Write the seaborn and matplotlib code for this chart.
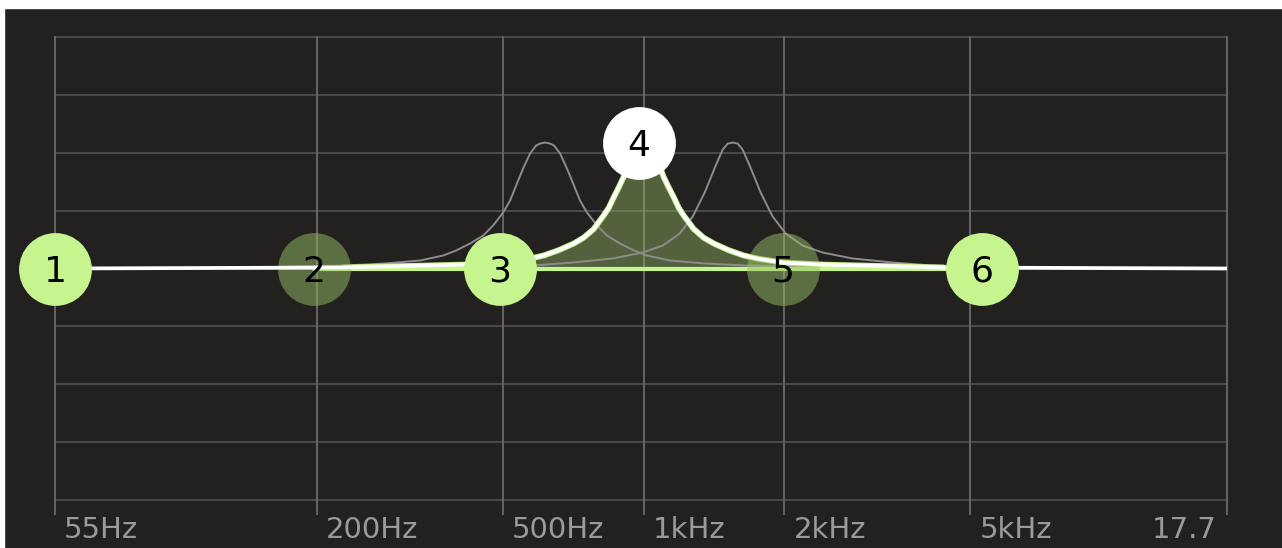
import matplotlib.pyplot as plt
import seaborn as sns
from matplotlib.transforms import ScaledTranslation
from matplotlib.patches import Rectangle

# colours
BG = '#232020'
GRID_H = '#4a4a4a'
GRID_V = '#6a6a6a'
LIME = '#c6f48e'
OLIVE = (0.59, 0.75, 0.40)
GHOST = '#8c8c8c'

# axis ticks
freq_ticks = [55, 200, 500, 1000, 2000, 5000, 17700]
freq_labels = ['55Hz', '200Hz', '500Hz', '1kHz', '2kHz', '5kHz', '17.7']
db_ticks = [-24, -18, -12, -6, 0, 6, 12, 18, 24]

# band handles
node_ids = ['1', '2', '3', '4', '5', '6']
node_freq = [55, 197, 492, 978, 1982, 5300]
node_gain = [0, 0, 0, 13.05, 0, 0]
node_state = ['on', 'off', 'on', 'selected', 'off', 'on']

# selected band (4) curve
band4_freq = [228, 339, 412, 502, 568, 611, 658, 709, 744, 782, 801, 821, 842, 863, 884, 906, 929, 952,
              1000,
              1050, 1077, 1103, 1131, 1159, 1188, 1217, 1248, 1279, 1343, 1411, 1519, 1636, 1761,
              1992, 2425, 2952, 4377]
band4_gain = [0.1, 0.3, 0.4, 0.6, 1.0, 1.35, 1.9, 2.6, 3.2, 4.1, 4.8, 5.5, 6.3, 7.4, 8.4, 9.5, 10.8, 11.9,
              13.05,
              11.9, 10.8, 9.5, 8.4, 7.4, 6.3, 5.5, 4.8, 4.1, 3.2, 2.6, 1.9, 1.35, 1.0,
              0.6, 0.4, 0.3, 0.1]

# faint ghost curves either side
ghost_lo_freq = [140.5, 229.9, 279.9, 332.5, 372.4, 396.9, 425.2, 453.4, 476.2, 500.2, 517.7,
                 533.3, 551.9, 571.2, 588.3, 600.1,
                 615,
                 630.3, 642.9, 662.2, 685.3, 709.2, 730.6, 756.2, 794.3, 834.2, 889.5, 952.9,
                 1015.7, 1137.4, 1351.3, 1645, 2692]
ghost_lo_gain = [0.10, 0.31, 0.52, 0.83, 1.35, 1.87, 2.59, 3.42, 4.46, 5.80, 7.05,
                 8.60, 10.36, 11.92, 12.75, 12.95,
                 13.06,
                 12.95, 12.75, 11.92, 10.36, 8.60, 7.05, 5.80, 4.46, 3.42, 2.59, 1.87,
                 1.35, 0.83, 0.52, 0.31, 0.10]

ghost_hi_freq = [354.1, 579.5, 705.4, 858.9, 995.4, 1098.5, 1194.1, 1273.2, 1350.5, 1425.5,
                 1475.6, 1512.3,
                 1550,
                 1588.6, 1628.1, 1685.3, 1778.9, 1887.0, 2011.9, 2187.1, 2413.5, 2797.3,
                 3405.8, 4145.9, 6784.4]
ghost_hi_gain = [0.10, 0.31, 0.62, 1.04, 1.66, 2.38, 3.63, 5.39, 7.88, 10.67,
                 12.33, 12.95,
                 13.06,
                 12.95, 12.33, 10.67, 7.88, 5.39, 3.63, 2.38, 1.66, 1.04,
                 0.62, 0.31, 0.10]

sns.set_theme(style='dark', rc={'axes.facecolor': BG, 'figure.facecolor': BG})
plt.rcParams['font.family'] = ['DejaVu Sans']

fig = plt.figure(figsize=(12.82, 5.48), dpi=100)
ax = fig.add_axes([55 / 1282, 48 / 548, 1172 / 1282, 463 / 548])
ax.set_facecolor(BG)

ax.set_xscale('log')
ax.set_xlim(freq_ticks[0], freq_ticks[-1])
ax.set_ylim(db_ticks[0], db_ticks[-1])

# grid
for d in db_ticks:
    ax.axhline(d, color=GRID_H, lw=1.4, zorder=0, clip_on=False)
for f in freq_ticks:
    ax.axvline(f, color=GRID_V, lw=1.3, zorder=0.5, clip_on=False)
ax.set_xticks(freq_ticks)
ax.set_xticklabels([])
ax.set_yticks([])
ax.minorticks_off()
ax.tick_params(axis='x', direction='out', length=11, width=1.3, color=GRID_V, bottom=True)
for s in ax.spines.values():
    s.set_visible(False)

# tick labels, left aligned just right of each line (last one right aligned)
trans = ax.get_xaxis_transform()
for f, lab in zip(freq_ticks, freq_labels):
    last = f == freq_ticks[-1]
    off = ScaledTranslation(-0.10 if last else 0.09, -0.38, fig.dpi_scale_trans)
    ax.text(f, 0, lab, transform=trans + off, ha='right' if last else 'left',
            va='baseline', fontsize=21, color='#9a9a9a')

# selected band fill and ghosts
ax.fill_between(band4_freq, 0, band4_gain, color=OLIVE, alpha=0.42, lw=0, zorder=1)
sns.lineplot(x=ghost_lo_freq, y=ghost_lo_gain, color=GHOST, lw=1.4, sort=False, ax=ax, zorder=2)
sns.lineplot(x=ghost_hi_freq, y=ghost_hi_gain, color=GHOST, lw=1.4, sort=False, ax=ax, zorder=2)
sns.lineplot(x=[node_freq[1], node_freq[5]], y=[0, 0], color=LIME, lw=3, ax=ax, zorder=3)
sns.lineplot(x=band4_freq, y=band4_gain, color=LIME, lw=4.2, sort=False, ax=ax, zorder=3)

# overall response
resp_freq = [freq_ticks[0]] + band4_freq + [freq_ticks[-1]]
resp_gain = [0] + band4_gain + [0]
sns.lineplot(x=resp_freq, y=resp_gain, color='white', lw=2.7, sort=False, ax=ax, zorder=4)

# handles
style = {'on': (LIME, 1.0, 6), 'off': (OLIVE, 0.5, 3.5), 'selected': ('white', 1.0, 6)}
for nid, f, g, st in zip(node_ids, node_freq, node_gain, node_state):
    col, a, z = style[st]
    sns.scatterplot(x=[f], y=[g], s=2750, color=col, alpha=a, linewidth=0,
                    ax=ax, zorder=z, clip_on=False, legend=False)
    ax.text(f, g, nid, ha='center', va='center_baseline', fontsize=26,
            color='black', zorder=7, clip_on=False)

ax.set_xlabel('')
ax.set_ylabel('')

# white screenshot margins on top and left
fig.patches.append(Rectangle((0, 1 - 8 / 548), 1, 8 / 548, transform=fig.transFigure,
                             color='white', zorder=10))
fig.patches.append(Rectangle((0, 0), 4 / 1282, 1, transform=fig.transFigure,
                             color='white', zorder=10))

fig.savefig('out.png', dpi=100, facecolor=BG)
